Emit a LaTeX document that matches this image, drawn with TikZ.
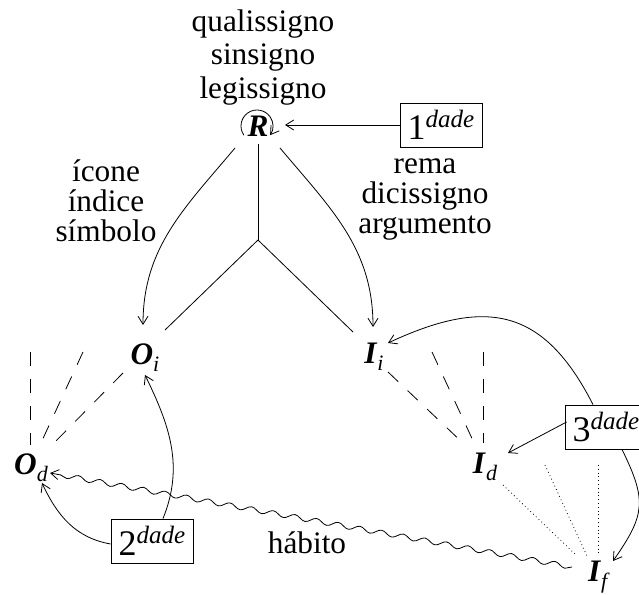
\documentclass[tikz,border=0pt]{standalone}
\usepackage{fontspec}
\setmainfont{Liberation Serif}
\usetikzlibrary{arrows.meta,calc,decorations.pathmorphing}

\newcommand\lbl[2]{\textbf{\textit{#1}}\raisebox{-7pt}{\fontsize{22}{22}\selectfont\textit{#2}}}
\newcommand\dg[1]{{\fontsize{36}{36}\selectfont #1}\raisebox{12pt}{\fontsize{25}{25}\selectfont\textit{dade}}}

\begin{document}
\begin{tikzpicture}[x=1pt,y=1pt,
  every node/.style={font=\fontsize{31.3}{31.3}\selectfont},
  txt/.style={anchor=base, inner sep=0pt},
  dbox/.style={draw, line width=0.8pt, minimum width=82pt, minimum height=44pt, inner sep=2pt},
  conn/.style={line width=0.8pt},
  arr/.style={conn, -{Straight Barb[length=8pt,width=10pt,line width=0.8pt]}},
  dashln/.style={line width=0.8pt, dash pattern=on 14pt off 13pt},
  dotln/.style={line width=0.8pt, dash pattern=on 0.8pt off 3pt},
  wavy/.style={arr, decorate, decoration={snake, amplitude=2.5pt, segment length=22pt, post length=9pt}}
]
\useasboundingbox (0,0) rectangle (639,594);

% text blocks
\node[txt] (t1) at (263,562) {qualissigno};
\node[txt] (t2) at (263,529) {sinsigno};
\node[txt] (t3) at (263,495) {legissigno};
\node[txt] (l1) at (106,412) {ícone};
\node[txt] (l2) at (106,382) {índice};
\node[txt] (l3) at (106,352) {símbolo};
\node[txt] (r1) at (425,420) {rema};
\node[txt] (r2) at (425,390) {dicissigno};
\node[txt] (r3) at (425,360) {argumento};
\node[txt] (hab) at (307,41) {hábito};

% main labels
\node[txt] (R) at (258,457) {\textbf{\textit{R}}};
\node[txt] (Oi) at (145,229) {\lbl{O}{i}};
\node[txt] (Ii) at (374,230) {\lbl{I}{i}};
\node[txt] (Od) at (31,119) {\lbl{O}{d}};
\node[txt] (Id) at (485,121) {\lbl{I}{d}};
\node[txt] (If) at (599,13) {\lbl{I}{f}};

% boxes
\node[dbox] (one) at (441,469) {\dg{1}};
\node[dbox] (two) at (152,53) {\dg{2}};
\node[dbox] (three) at (606,167) {\dg{3}};

% coordinates
\coordinate (J) at (258,354);
\coordinate (od1) at (30,242);
\coordinate (od2) at (83,242);
\coordinate (id1) at (483,242);
\coordinate (id2) at (432,242);
\coordinate (if2) at (545,129);
\coordinate (if3) at (598,129);

% tripod
\draw[conn] ($(R.base)+(0,-7)$) -- (J);
\draw[conn] (J) -- ($(Oi.base)+(20,35)$);
\draw[conn] (J) -- ($(Ii.base)+(-21,32)$);

% loop on R
\draw[arr] ($(R.base)+(-1,11)$) ++(215:16pt) arc[start angle=215,end angle=-35,radius=16pt];

% arrows
\draw[arr] (one.west) -- ($(R.base)+(27,12)$);
\draw[arr] ($(R.base)+(-23,-11)$) to[out=230,in=90] ($(Oi.base)+(-2,40)$);
\draw[arr] ($(R.base)+(22,-11)$) to[out=-50,in=90] ($(Ii.base)+(-1,37)$);
\draw[arr] ($(two.north)+(11,0)$) to[out=68,in=-64] ($(Oi.base)+(0,-10)$);
\draw[arr] ($(two.west)+(0,-3)$) to[out=170,in=-65] ($(Od.base)+(11,-8)$);
\draw[arr] ($(three.west)+(2,5)$) -- ($(Id.base)+(23,20)$);
\draw[arr] ($(three.north)+(-13,0)$) to[out=117,in=25,looseness=1.3] ($(Ii.base)+(14,21)$);
\draw[arr] ($(three.south)+(16,0)$) to[out=-64,in=55,looseness=1.3] ($(If.base)+(14,20)$);
\draw[wavy] ($(If.base)+(-27,14)$) -- ($(Od.base)+(19,2)$);

% dashed lines
\draw[dashln] (od1) -- ($(Od.base)+(-1,30)$);
\draw[dashln] (od2) -- ($(Od.base)+(9,30)$);
\draw[dashln] ($(Oi.base)+(-22,-8)$) -- ($(Od.base)+(21,30)$);
\draw[dashln] (id1) -- ($(Id.base)+(-2,30)$);
\draw[dashln] (id2) -- ($(Id.base)+(-10,28)$);
\draw[dashln] ($(Ii.base)+(14,-8)$) -- ($(Id.base)+(-20,28)$);

% dotted lines
\draw[dotln] ($(Id.base)+(18,-12)$) -- ($(If.base)+(-22,25)$);
\draw[dotln] (if2) -- ($(If.base)+(-12,25)$);
\draw[dotln] (if3) -- ($(If.base)+(-1,25)$);
\end{tikzpicture}
\end{document}
